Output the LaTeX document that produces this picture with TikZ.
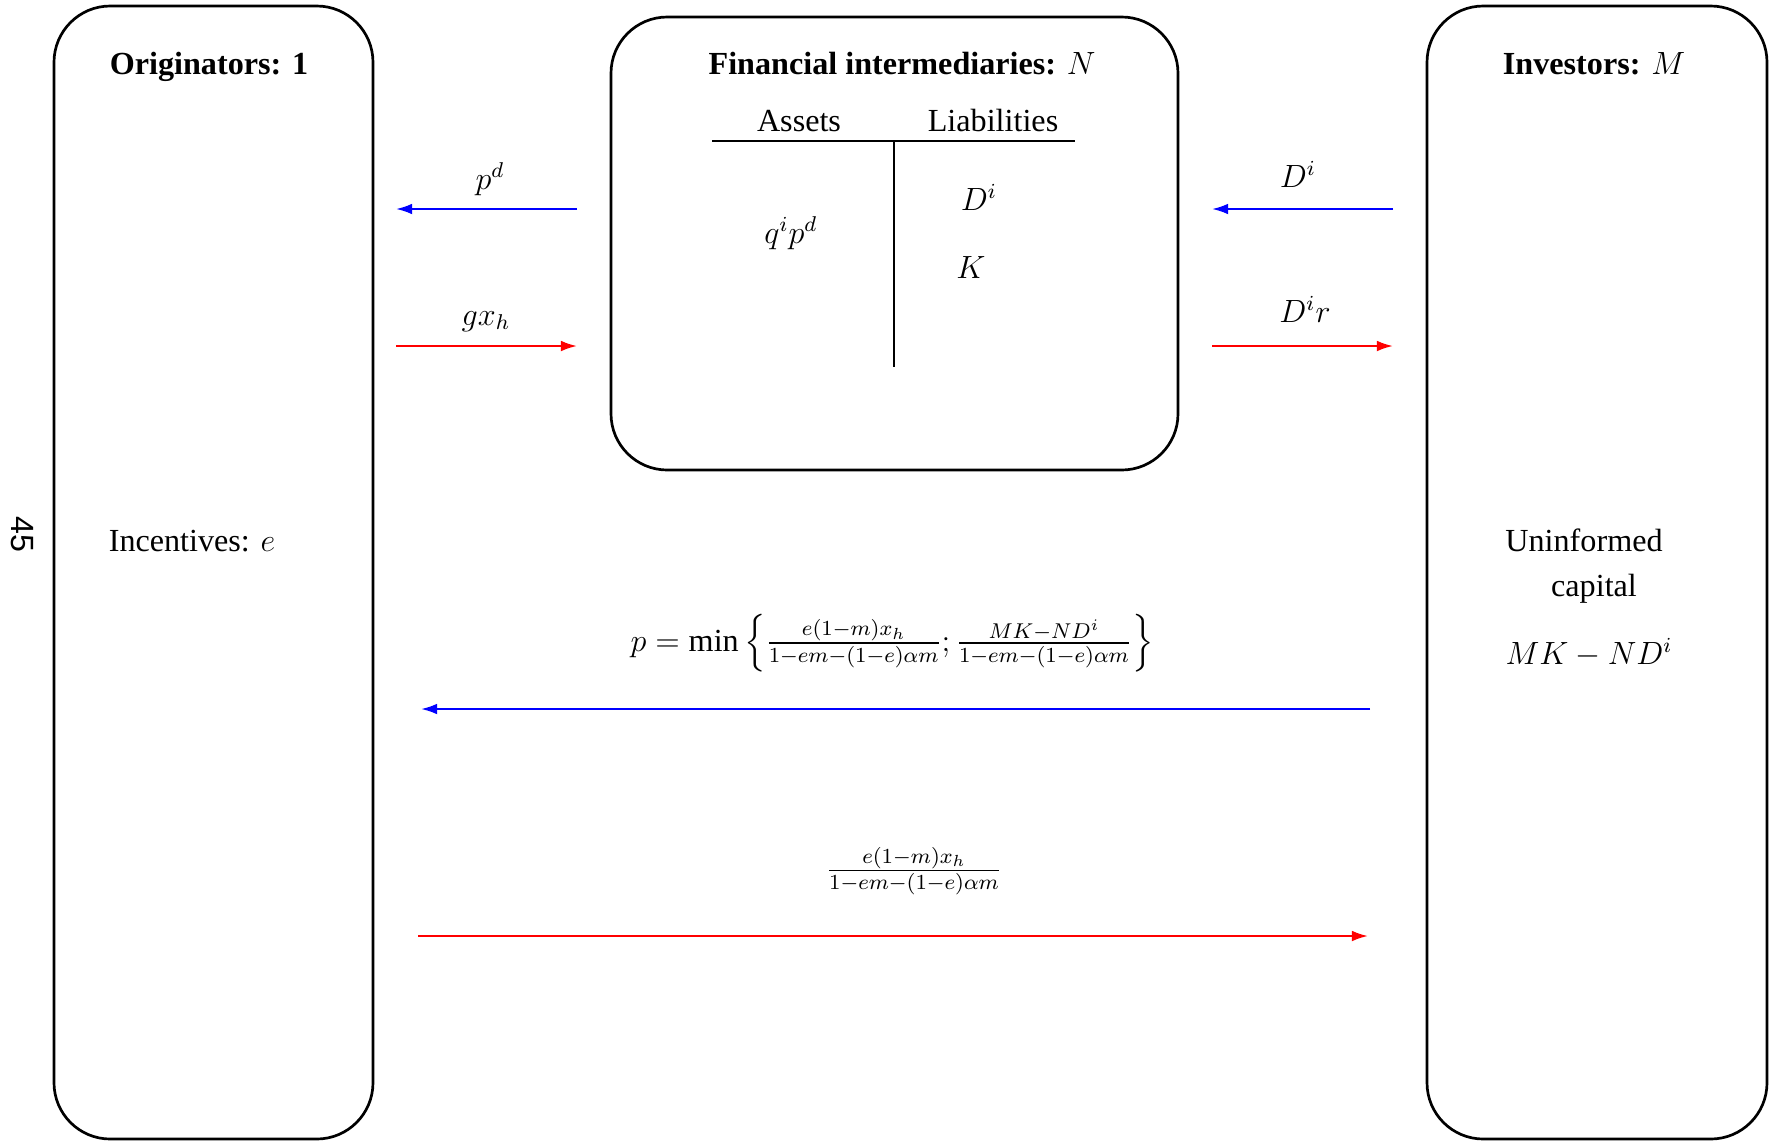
\documentclass[tikz,border=0pt]{standalone}
\usepackage{amsmath}
\usepackage{fontspec}
\setmainfont{Liberation Serif}
\newfontfamily\pgnum{Liberation Sans}
\usetikzlibrary{arrows.meta,fit}
\begin{document}
\begin{tikzpicture}[x=0.3731pt,y=-0.3731pt,
  font=\fontsize{12}{14.5}\selectfont,
  box/.style={draw,line width=1pt,rounded corners=21pt,inner sep=0pt},
  lbl/.style={anchor=base,inner sep=0pt},
  flowl/.style={draw=blue,line width=0.8pt,-{Latex[length=6pt,width=4pt]}},
  flowr/.style={draw=red,line width=0.8pt,-{Latex[length=6pt,width=4pt]}},
  tline/.style={line width=0.8pt}]
\useasboundingbox (0,0) rectangle (1773,1141);
% boxes
\node[box,fit={(54,6) (373,1139)}] (orig) {};
\node[box,fit={(611,17) (1178,470)}] (fin) {};
\node[box,fit={(1427,6) (1767,1139)}] (inv) {};
% titles
\node[lbl] (origT) at (209,74) {\textbf{Originators: 1}};
\node[lbl] (finT) at (902,74) {\textbf{Financial intermediaries:} $N$};
\node[lbl] (invT) at (1594,74) {\textbf{Investors:} $M$};
% balance sheet
\node[lbl] (assets) at (799,131) {Assets};
\node[lbl] (liab) at (993,131) {Liabilities};
\coordinate (hl) at (712,141);
\coordinate (hr) at (1075,141);
\coordinate (vt) at (894,141);
\coordinate (vb) at (894,367);
\draw[tline] (hl) -- (hr);
\draw[tline] (vt) -- (vb);
\node[lbl] (qp) at (791,243) {$q^ip^d$};
\node[lbl] (Di) at (979,210) {$D^i$};
\node[lbl] (K) at (971,278) {$K$};
% page number
\node[rotate=-90,font=\pgnum\fontsize{12}{14}\selectfont] (pg) at (22,534) {45};
% side texts
\node[lbl] (inc) at (192,551) {Incentives: $e$};
\node[lbl] (unin) at (1584,551) {Uninformed};
\node[lbl] (cap) at (1594,596) {capital};
\node[lbl] (mknd) at (1589,664) {$MK-ND^i$};
% short arrows left
\coordinate (a1s) at (577,209); \coordinate (a1e) at (396,209);
\coordinate (a2s) at (396,346); \coordinate (a2e) at (577,346);
\draw[flowl] (a1s) -- (a1e);
\draw[flowr] (a2s) -- (a2e);
\node[lbl] (pd) at (490,189) {$p^d$};
\node[lbl] (gxh) at (486,325) {$gx_h$};
% short arrows right
\coordinate (b1s) at (1393,209); \coordinate (b1e) at (1212,209);
\coordinate (b2s) at (1212,346); \coordinate (b2e) at (1393,346);
\draw[flowl] (b1s) -- (b1e);
\draw[flowr] (b2s) -- (b2e);
\node[lbl] (Dil) at (1298,187) {$D^i$};
\node[lbl] (Dir) at (1305,322) {$D^ir$};
% long arrows
\coordinate (c1s) at (1370,709); \coordinate (c1e) at (421,709);
\coordinate (c2s) at (418,936); \coordinate (c2e) at (1368,936);
\draw[flowl] (c1s) -- (c1e);
\draw[flowr] (c2s) -- (c2e);
\node (pmin) at (892,643) {$p=\min\left\{\frac{e(1-m)x_h}{1-em-(1-e)\alpha m};\frac{MK-ND^i}{1-em-(1-e)\alpha m}\right\}$};
\node (frac) at (914,871) {$\frac{e(1-m)x_h}{1-em-(1-e)\alpha m}$};
\end{tikzpicture}
\end{document}
